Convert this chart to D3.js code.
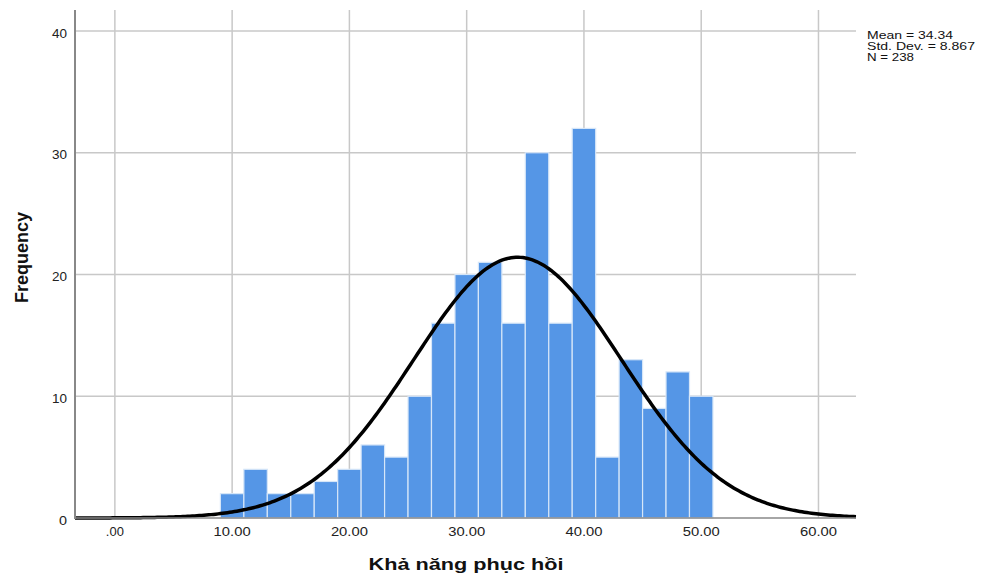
<!DOCTYPE html>
<html><head><meta charset="utf-8">
<script src="https://cdn.jsdelivr.net/npm/d3@7"></script>
<style>body{margin:0;background:#fff}</style>
</head><body>
<svg id="c" width="981" height="576"></svg>
<script>
const binStarts = [9,11,13,15,17,19,21,23,25,27,29,31,33,35,37,39,41,43,45,47,49];
const binWidth = 2;
const counts = [2,4,2,2,3,4,6,5,10,16,20,21,16,30,16,32,5,13,9,12,10];
const xTicks = [0,10,20,30,40,50,60];
const yTicks = [0,10,20,30,40];
const stats = {mean:34.34, sd:8.867, n:238};
const statLines = ["Mean = 34.34","Std. Dev. = 8.867","N = 238"];
const statWidths = [86,108,47];

const svg = d3.select("#c");
const L=75, R=856, T=10, B=518;
const x = d3.scaleLinear().domain([-3.4,63.2]).range([L,R]);
const y = d3.scaleLinear().domain([0,40]).range([B,31]);
const font = "'Liberation Sans', Arial, sans-serif";

// gridlines
svg.append("g").selectAll("line").data(xTicks).join("line")
  .attr("x1",d=>x(d)).attr("x2",d=>x(d)).attr("y1",T).attr("y2",B)
  .attr("stroke","#c8c8c8").attr("stroke-width",1.5);
svg.append("g").selectAll("line").data(yTicks.filter(d=>d>0)).join("line")
  .attr("x1",L).attr("x2",R).attr("y1",d=>y(d)).attr("y2",d=>y(d))
  .attr("stroke","#c8c8c8").attr("stroke-width",1.5);

// bars
svg.append("g").selectAll("rect").data(counts).join("rect")
  .attr("x",(d,i)=>x(binStarts[i]))
  .attr("width",(d,i)=>x(binStarts[i]+binWidth)-x(binStarts[i]))
  .attr("y",d=>y(d)).attr("height",d=>B-y(d))
  .attr("fill","#5596e6").attr("stroke","#d6e6f8").attr("stroke-width",1.2);

// normal curve
const pts = d3.range(-3.4,63.21,0.2).map(v=>[v, stats.n*binWidth/(stats.sd*Math.sqrt(2*Math.PI))*Math.exp(-0.5*Math.pow((v-stats.mean)/stats.sd,2))]);
svg.append("path").datum(pts)
  .attr("d",d3.line().x(d=>x(d[0])).y(d=>y(d[1])))
  .attr("fill","none").attr("stroke","#000").attr("stroke-width",3.5);

// axes lines
svg.append("line").attr("x1",L).attr("x2",L).attr("y1",T).attr("y2",B+1).attr("stroke","#888").attr("stroke-width",2);
svg.append("line").attr("x1",L).attr("x2",R).attr("y1",B).attr("y2",B).attr("stroke","#888").attr("stroke-width",1.5);

// tick labels
svg.append("g").selectAll("text").data(yTicks).join("text")
  .attr("x",67).attr("y",d=>y(d)+6.5).attr("text-anchor","end")
  .attr("font-family",font).attr("font-size",12.5).attr("fill","#222")
  .attr("textLength",d=>d===0?8:15).attr("lengthAdjust","spacingAndGlyphs").text(d=>d);
svg.append("g").selectAll("text").data(xTicks).join("text")
  .attr("x",d=>x(d)).attr("y",536).attr("text-anchor","middle")
  .attr("font-family",font).attr("font-size",12.5).attr("fill","#222")
  .attr("textLength",d=>d===0?18:37).attr("lengthAdjust","spacingAndGlyphs")
  .text(d=>d===0?".00":d.toFixed(2));

// titles
svg.append("text").attr("x",466).attr("y",570).attr("text-anchor","middle")
  .attr("font-family",font).attr("font-size",17).attr("font-weight","bold").attr("fill","#111")
  .attr("textLength",195).attr("lengthAdjust","spacingAndGlyphs")
  .text("Khả năng phục hồi");
svg.append("text").attr("transform","translate(28,257.5) rotate(-90)").attr("text-anchor","middle")
  .attr("font-family",font).attr("font-size",19).attr("font-weight","bold").attr("fill","#111")
  .attr("textLength",91).attr("lengthAdjust","spacingAndGlyphs")
  .text("Frequency");

// stats
svg.append("g").selectAll("text").data(statLines).join("text")
  .attr("x",867).attr("y",(d,i)=>39+i*11)
  .attr("font-family",font).attr("font-size",10.5).attr("fill","#111")
  .attr("textLength",(d,i)=>statWidths[i]).attr("lengthAdjust","spacingAndGlyphs").text(d=>d);
</script>
</body></html>
